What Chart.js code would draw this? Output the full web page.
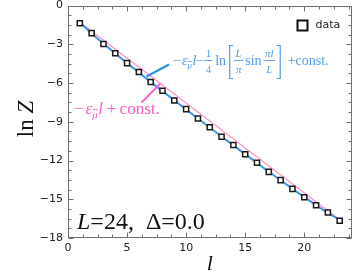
<!DOCTYPE html>
<html>
<head>
<meta charset="utf-8">
<script src="https://cdn.jsdelivr.net/npm/chart.js@4/dist/chart.umd.min.js"></script>
<style>
html,body{margin:0;padding:0;background:#fff;}
canvas{display:block;}
</style>
</head>
<body>
<canvas id="c" width="357" height="278"></canvas>
<script>
// ---- data ----
const lValues = [1,2,3,4,5,6,7,8,9,10,11,12,13,14,15,16,17,18,19,20,21,22,23];
const lnZData = [-1.38,-2.14,-2.98,-3.70,-4.46,-5.15,-5.92,-6.60,-7.35,-8.02,-8.75,-9.42,-10.16,-10.80,-11.52,-12.18,-12.88,-13.52,-14.20,-14.84,-15.46,-16.02,-16.67];
const fitFullY = [-1.30,-2.16,-2.95,-3.72,-4.46,-5.19,-5.92,-6.63,-7.34,-8.05,-8.75,-9.45,-10.14,-10.83,-11.51,-12.19,-12.87,-13.53,-14.19,-14.84,-15.46,-16.06,-16.59];
const fitLinearX = [1, 23];
const fitLinearY = [-1.30, -16.59];
const xTickValues = [0, 5, 10, 15, 20];
const yTickValues = [-18, -15, -12, -9, -6, -3, 0];
const xRange = [0, 24];
const yRange = [-18, 0];
const legendLabel = 'data';
const panelLabel = ['L', '=24,  ', 'Δ', '=0.0'];

const SERIF = '"Liberation Serif", "DejaVu Serif", serif';
const SANS = '"DejaVu Sans", sans-serif';
const BLUE_TXT = '#4d9fea';
const PINK_TXT = '#ff5fc8';

function pts(xs, ys){ return xs.map((v,i)=>({x:v, y:ys[i]})); }
function fmt(v){ return v < 0 ? '\u2212' + Math.abs(v) : String(v); }

function drawFrac(ctx, x, base, num, den, size, color, numItal, denItal){
  ctx.font = (numItal?'italic ':'') + size + 'px ' + SERIF;
  const wn = ctx.measureText(num).width;
  ctx.font = (denItal?'italic ':'') + size + 'px ' + SERIF;
  const wd = ctx.measureText(den).width;
  const w = Math.max(wn, wd) + 3;
  ctx.fillStyle = color;
  ctx.font = (numItal?'italic ':'') + size + 'px ' + SERIF;
  ctx.fillText(num, x + (w - wn)/2, base - 8.5);
  ctx.font = (denItal?'italic ':'') + size + 'px ' + SERIF;
  ctx.fillText(den, x + (w - wd)/2, base + 7.5);
  ctx.fillRect(x, base - 5, w, 0.9);
  return w;
}

const decor = {
  id: 'decor',
  afterDraw(chart){
    const {ctx, chartArea:a, scales} = chart;
    const xs = scales.x, ys = scales.y;
    ctx.save();
    // frame
    ctx.strokeStyle = '#6e6e6e';
    ctx.lineWidth = 1;
    const L = Math.round(a.left)+0.5, R = Math.round(a.right)-0.5, T = Math.round(a.top)+0.5, B = Math.round(a.bottom)-0.5;
    ctx.strokeRect(L, T, R-L, B-T);
    // inward ticks
    ctx.beginPath();
    for (let v = yRange[0]; v <= yRange[1] + 1e-9; v += 0.75){
      const major = yTickValues.some(t => Math.abs(t - v) < 1e-6);
      const len = major ? 5 : 3;
      const p = Math.round(ys.getPixelForValue(v)) + 0.5;
      ctx.moveTo(L, p); ctx.lineTo(L + len, p);
      ctx.moveTo(R, p); ctx.lineTo(R - len, p);
    }
    for (let v = xRange[0]; v <= xRange[1] + 1e-9; v += 1.25){
      const major = xTickValues.some(t => Math.abs(t - v) < 1e-6);
      const len = major ? 5 : 3;
      const p = Math.round(xs.getPixelForValue(v)) + 0.5;
      ctx.moveTo(p, B); ctx.lineTo(p, B - len);
      ctx.moveTo(p, T); ctx.lineTo(p, T + len);
    }
    ctx.stroke();

    // legend
    const lx = a.right - 54, ly = a.top + 20;
    ctx.fillStyle = '#fff';
    ctx.fillRect(lx, ly - 5, 10, 10);
    ctx.strokeStyle = '#111';
    ctx.lineWidth = 2;
    ctx.strokeRect(lx, ly - 5, 10, 10);
    ctx.fillStyle = '#222';
    ctx.font = '11px ' + SANS;
    ctx.textBaseline = 'middle';
    ctx.fillText(legendLabel, lx + 18, ly);
    ctx.textBaseline = 'alphabetic';

    // pointer lines
    ctx.lineWidth = 2;
    ctx.strokeStyle = '#2b8fe8';
    ctx.beginPath(); ctx.moveTo(146.5, 76.5); ctx.lineTo(169, 64.5); ctx.stroke();
    ctx.strokeStyle = '#ff5fc8';
    ctx.beginPath(); ctx.moveTo(141.5, 102.5); ctx.lineTo(160.5, 83.5); ctx.stroke();

    // blue formula
    let x = 173, base = 65;
    const put = (s, size, ital, col, dy=0) => {
      ctx.font = (ital?'italic ':'') + size + 'px ' + SERIF;
      ctx.fillStyle = col;
      ctx.fillText(s, x, base + dy);
      const w = ctx.measureText(s).width;
      x += w;
      return w;
    };
    const c1 = BLUE_TXT;
    put('\u2212', 14, false, c1); x += 1;
    put('\u03b5', 14, true, c1);
    { const w = put('\u03bc', 9, true, c1, 3); ctx.fillRect(x - w + 0.5, base - 4, w - 0.5, 0.8); }
    x += 0.5;
    put('l', 14, true, c1);
    put('\u2212', 14, false, c1);
    x += drawFrac(ctx, x, base, '1', '4', 11, c1, false, false) + 2.5;
    put('ln', 14, false, c1); x += 3;
    ctx.fillStyle = c1;
    // left bracket
    ctx.fillRect(x, base - 20, 1.2, 34); ctx.fillRect(x, base - 20, 4, 1); ctx.fillRect(x, base + 13, 4, 1);
    x += 5;
    x += drawFrac(ctx, x, base, 'L', '\u03c0', 11, c1, true, true) + 2;
    put('sin', 14, false, c1); x += 2;
    x += drawFrac(ctx, x, base, '\u03c0l', 'L', 11, c1, true, true) + 1.5;
    ctx.fillStyle = c1;
    ctx.fillRect(x + 3, base - 20, 1.2, 34); ctx.fillRect(x, base - 20, 4, 1); ctx.fillRect(x, base + 13, 4, 1);
    x += 11;
    put('+const.', 14, false, c1);

    // pink formula
    x = 74; base = 114;
    const c2 = PINK_TXT;
    put('\u2212', 17, false, c2); x += 2;
    put('\u03b5', 17, true, c2);
    { const w = put('\u03bc', 11, true, c2, 3.5); ctx.fillRect(x - w + 0.5, base - 5, w - 0.5, 0.9); }
    x += 0.5;
    put('l', 17, true, c2); x += 3.5;
    put('+', 17, false, c2); x += 3.5;
    put('const.', 17, false, c2);

    // panel label
    x = 77; base = 229;
    put(panelLabel[0], 24, true, '#111');
    put(panelLabel[1], 24, false, '#111');
    put(panelLabel[2], 24, false, '#111');
    put(panelLabel[3], 24, false, '#111');

    // axis titles
    ctx.fillStyle = '#111';
    ctx.font = 'italic 22px ' + SERIF;
    ctx.textAlign = 'center';
    ctx.fillText('l', (a.left + a.right)/2, 270);
    ctx.save();
    ctx.translate(33, 119);
    ctx.rotate(-Math.PI/2);
    ctx.font = '23px ' + SERIF;
    const w1 = ctx.measureText('ln ').width;
    ctx.font = 'italic 23px ' + SERIF;
    const w2 = ctx.measureText('Z').width;
    ctx.textAlign = 'left';
    ctx.font = '23px ' + SERIF;
    ctx.fillText('ln ', -(w1 + w2)/2, 0);
    ctx.font = 'italic 23px ' + SERIF;
    ctx.fillText('Z', -(w1 + w2)/2 + w1, 0);
    ctx.restore();
    ctx.restore();
  }
};

new Chart(document.getElementById('c'), {
  type: 'scatter',
  data: {
    datasets: [
      {
        label: legendLabel,
        data: pts(lValues, lnZData),
        showLine: false,
        pointStyle: 'rect',
        pointRadius: 3.6,
        pointBorderWidth: 1.5,
        borderColor: '#1a1a1a',
        backgroundColor: '#ffffff',
        order: 0
      },
      {
        label: 'fit full',
        data: pts(lValues, fitFullY),
        showLine: true,
        borderColor: '#3d93e6',
        borderWidth: 2,
        pointRadius: 0,
        tension: 0,
        order: 1
      },
      {
        label: 'fit linear',
        data: pts(fitLinearX, fitLinearY),
        showLine: true,
        borderColor: '#ff8fd2',
        borderWidth: 1.2,
        pointRadius: 0,
        order: 2
      }
    ]
  },
  options: {
    responsive: false,
    animation: false,
    devicePixelRatio: 1,
    layout: { padding: { top: 4, right: 4.5, left: 0, bottom: 0 } },
    plugins: { legend: { display: false }, tooltip: { enabled: false } },
    scales: {
      x: {
        type: 'linear', min: xRange[0], max: xRange[1],
        grid: { display: false, drawTicks: false },
        border: { display: false },
        afterBuildTicks: s => { s.ticks = xTickValues.map(v => ({value: v})); },
        afterFit: s => { s.height = 40; s.paddingLeft = 0; s.paddingRight = 0; },
        ticks: { padding: 4, color: '#222', font: { family: SANS, size: 11 }, maxRotation: 0, callback: v => fmt(v) }
      },
      y: {
        type: 'linear', min: yRange[0], max: yRange[1],
        grid: { display: false, drawTicks: false },
        border: { display: false },
        afterBuildTicks: s => { s.ticks = yTickValues.map(v => ({value: v})); },
        afterFit: s => { s.width = 68; s.paddingTop = 0; s.paddingBottom = 0; },
        ticks: { padding: 5, color: '#222', font: { family: SANS, size: 11 }, callback: v => fmt(v) }
      }
    }
  },
  plugins: [decor]
});
</script>
</body>
</html>
